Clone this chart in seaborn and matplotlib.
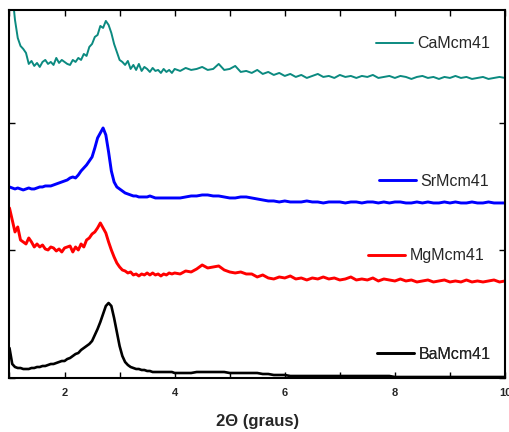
"""XRD low-angle patterns of the M-MCM-41 samples (stacked)."""

import matplotlib.pyplot as plt
import numpy as np
import pandas as pd
import seaborn as sns
from matplotlib.lines import Line2D
from matplotlib.ticker import MultipleLocator

# sampling grid in 2-theta: finer in the peak region, coarser after 4 degrees
two_theta = np.concatenate([
    np.round(np.linspace(1.0, 3.95, 60), 2),
    np.round(np.linspace(4.0, 10.0, 61), 1),
])

# intensities (arbitrary units, already offset for stacking)
ca_mcm41 = [
    420, 385, 358, 340, 332, 329, 325, 314, 317, 312,
    315, 311, 316, 318, 314, 316, 313, 320, 315, 318,
    316, 314, 313, 318, 316, 320, 318, 324, 322, 331,
    334, 341, 343, 352, 350, 357, 353, 345, 334, 326,
    318, 316, 313, 317, 309, 313, 308, 314, 307, 311,
    309, 306, 310, 307, 308, 305, 309, 306, 308, 305,
    309, 307, 310, 308, 309, 311, 308, 309, 314, 308,
    309, 312, 306, 307, 305, 308, 304, 306, 303, 305,
    302, 304, 301, 303, 300, 302, 304, 301, 302, 300,
    303, 301, 302, 300, 302, 301, 303, 300, 301, 302,
    300, 302, 301, 299, 301, 302, 300, 301, 299, 301,
    300, 302, 300, 301, 299, 300, 301, 299, 300, 301,
    300,
]
sr_mcm41 = [
    191, 190, 189, 190, 189, 188, 189, 190, 189, 189,
    190, 191, 191, 192, 192, 192, 193, 194, 195, 196,
    197, 198, 200, 201, 200, 203, 207, 210, 213, 217,
    221, 230, 240, 245, 250, 243, 226, 207, 196, 191,
    189, 187, 185, 184, 183, 182, 182, 181, 181, 181,
    181, 182, 181, 180, 180, 180, 180, 180, 180, 180,
    180, 180, 181, 182, 182, 183, 183, 182, 182, 181,
    180, 180, 181, 181, 180, 179, 178, 177, 177, 176,
    177, 176, 176, 176, 177, 176, 176, 175, 176, 176,
    176, 175, 176, 176, 175, 176, 176, 175, 176, 175,
    176, 176, 175, 175, 176, 175, 176, 175, 175, 176,
    175, 176, 175, 175, 176, 175, 175, 176, 175, 175,
    175,
]
mg_mcm41 = [
    170, 158, 146, 151, 138, 136, 134, 140, 136, 131,
    134, 131, 133, 129, 128, 131, 130, 127, 129, 126,
    130, 131, 132, 126, 131, 128, 134, 131, 138, 140,
    144, 146, 150, 155, 150, 145, 136, 128, 121, 115,
    111, 108, 107, 105, 106, 103, 104, 102, 104, 103,
    105, 103, 105, 103, 104, 102, 104, 103, 105, 104,
    105, 104, 107, 106, 109, 113, 110, 111, 112, 108,
    106, 105, 106, 104, 104, 101, 103, 100, 99, 101,
    100, 102, 99, 100, 98, 100, 99, 101, 99, 100,
    98, 99, 101, 98, 99, 98, 100, 97, 99, 98,
    97, 99, 97, 98, 96, 97, 98, 96, 97, 98,
    96, 97, 96, 98, 96, 97, 96, 97, 98, 96,
    97,
]
ba_mcm41 = [
    30, 14, 11, 10, 10, 9, 9, 9, 10, 10,
    11, 11, 12, 12, 13, 14, 14, 15, 16, 17,
    17, 19, 20, 22, 24, 25, 28, 30, 32, 34,
    37, 43, 49, 56, 64, 72, 75, 72, 60, 46,
    32, 22, 16, 13, 11, 10, 9, 9, 8, 8,
    7, 7, 6, 6, 6, 6, 6, 6, 6, 6,
    5, 5, 5, 5, 6, 6, 6, 6, 6, 6,
    5, 5, 5, 5, 5, 5, 4, 4, 3, 3,
    3, 2, 2, 2, 2, 2, 2, 2, 2, 2,
    2, 2, 2, 2, 2, 2, 2, 2, 2, 2,
    1, 1, 1, 1, 1, 1, 1, 1, 1, 1,
    1, 1, 1, 1, 1, 1, 1, 1, 1, 1,
    1,
]

samples = ["CaMcm41", "SrMcm41", "MgMcm41", "BaMcm41"]
series = [ca_mcm41, sr_mcm41, mg_mcm41, ba_mcm41]
colors = ["#0b8a80", "#0000ff", "#ff0000", "#000000"]
widths = [1.4, 2.1, 2.1, 1.9]
# legend anchor (axes fraction) for each sample label
label_pos = [(0.740, 0.908), (0.746, 0.535), (0.724, 0.332), (0.742, 0.065)]

sns.set_theme(style="ticks")
plt.rcParams["font.family"] = ["Liberation Sans", "DejaVu Sans"]

fig = plt.figure(figsize=(5.1, 4.32), dpi=100)
ax = fig.add_axes([0.0186, 0.125, 0.9716, 0.852])

for name, values, color, lw in zip(samples, series, colors, widths):
    df = pd.DataFrame({"two_theta": two_theta, "intensity": values})
    sns.lineplot(data=df, x="two_theta", y="intensity", color=color,
                 linewidth=lw, ax=ax, legend=False)

for name, color, lw, pos in zip(samples, colors, widths, label_pos):
    handle = Line2D([], [], color=color, linewidth=lw)
    leg = ax.legend([handle], [name], loc="center left", bbox_to_anchor=pos,
                    frameon=False, fontsize=11.5, handlelength=2.3,
                    handletextpad=0.3, borderpad=0, borderaxespad=0)
    ax.add_artist(leg)

ax.set_xlim(1, 10)
ax.set_ylim(0, 368)
ax.xaxis.set_major_locator(MultipleLocator(2))
ax.xaxis.set_minor_locator(MultipleLocator(1))
ax.yaxis.set_major_locator(MultipleLocator(127.5))
ax.tick_params(axis="both", which="both", direction="in", top=True,
               right=True, length=4, width=1, color="black")
ax.tick_params(axis="x", labelsize=8, pad=7)
ax.set_yticklabels([])
for label in ax.get_xticklabels():
    label.set_fontweight("bold")
ax.set_xlabel("2\u0398 (graus)", fontsize=12, fontweight="bold", labelpad=12)
ax.set_ylabel("")
for spine in ax.spines.values():
    spine.set_linewidth(1.5)
    spine.set_color("black")

plt.savefig("out.png", dpi=100)
plt.close()
